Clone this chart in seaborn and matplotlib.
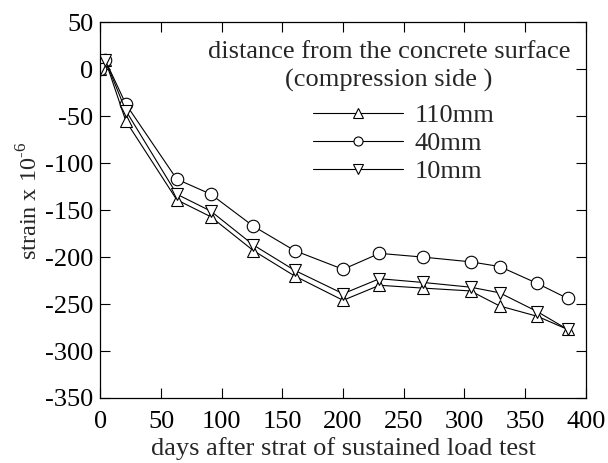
import matplotlib
matplotlib.use("Agg")
import matplotlib.pyplot as plt
import seaborn as sns
import pandas as pd

days = [0, 4, 21, 63, 91, 126, 160, 200, 230, 266, 305, 329, 360, 385]
s110 = [0, 10, -55, -139, -157, -193, -220, -246, -230, -233, -236, -252, -263, -277]
s40 = [0, 10, -37, -117, -133, -167, -193, -213, -196, -200, -205, -210, -228, -244]
s10 = [0, 10, -44, -133, -151, -187, -214, -239, -223, -227, -232, -238, -258, -277]
labels = ["110mm", "40mm", "10mm"]
markers = ["^", "o", "v"]
legend_title = ["distance from the concrete surface", "(compression side )"]

rows = []
for lab, vals in zip(labels, [s110, s40, s10]):
    for d, v in zip(days, vals):
        rows.append({"days": d, "strain": v, "depth": lab})
df = pd.DataFrame(rows)

sns.set_theme(style="ticks")
plt.rcParams["font.family"] = ["Liberation Serif", "DejaVu Serif"]
plt.rcParams["mathtext.fontset"] = "custom"
plt.rcParams["mathtext.rm"] = "Liberation Serif"
plt.rcParams["axes.unicode_minus"] = False

FS = 19
W, H = 608, 463
fig = plt.figure(figsize=(W / 100, H / 100), dpi=100)
ax = fig.add_axes([0.165, 0.1404, 0.7985, 0.8114])

sns.lineplot(data=df, x="days", y="strain", hue="depth", style="depth",
             hue_order=labels, style_order=labels,
             palette=["black"] * 3, markers=markers, dashes=False,
             markersize=9, markerfacecolor="white", markeredgecolor="black",
             markeredgewidth=0.8, linewidth=0.8, ax=ax, legend=True)

ax.set_xlim(0, 400)
ax.set_ylim(-350, 50)
ax.set_xticks(range(0, 401, 50))
ax.set_yticks(range(-350, 51, 50))
ax.tick_params(direction="in", length=7, width=0.8, top=True, right=True,
               labelsize=FS, colors="black")
ax.tick_params(axis="x", pad=9.5)
ax.tick_params(axis="y", pad=5)
for sp in ax.spines.values():
    sp.set_visible(True)
    sp.set_linewidth(0.9)
    sp.set_color("black")
ax.set_xlabel("days after strat of sustained load test", fontsize=FS, labelpad=3)
ax.set_ylabel("strain x 10$^{\\mathrm{\u2010}6}$", fontsize=17.5)
ax.yaxis.set_label_coords(-0.12, 0.524)

handles, labs = ax.get_legend_handles_labels()
for h in handles:
    h.set_markersize(6.5)
    h.set_markerfacecolor("white")
    h.set_markeredgecolor("black")
    h.set_linewidth(0.8)
leg = ax.legend(handles, labs, loc="upper left",
                bbox_to_anchor=(313 / W, 1 - 104 / H), bbox_transform=fig.transFigure,
                frameon=False, fontsize=FS, handlelength=3.41,
                handletextpad=0.45, labelspacing=0.16, borderaxespad=0,
                borderpad=0)

fig.text(389 / W, 1 - 52 / H, legend_title[0], fontsize=FS, ha="center", va="center")
fig.text(389 / W, 1 - 80 / H, legend_title[1], fontsize=FS, ha="center", va="center")

fig.savefig("out.png", dpi=100)
